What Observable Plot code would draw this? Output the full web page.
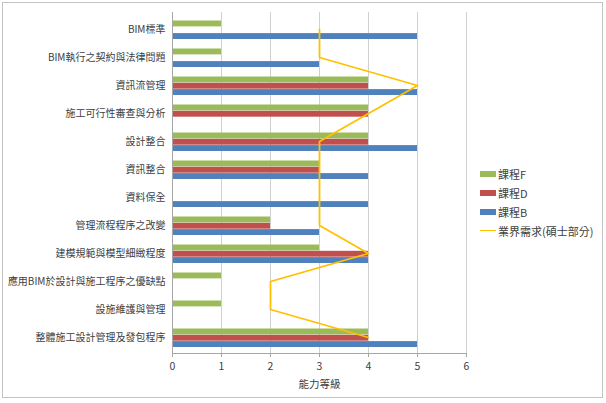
<!DOCTYPE html>
<html><head><meta charset="utf-8">
<script src="https://cdn.jsdelivr.net/npm/d3@7"></script>
<script src="https://cdn.jsdelivr.net/npm/@observablehq/plot@0.6"></script>
<style>
body{margin:0;background:#fff;}
#wrap{position:relative;width:606px;height:403px;overflow:hidden;}
#frame{position:absolute;left:2px;top:2px;width:601px;height:396px;border:1px solid #c4c4c4;pointer-events:none;box-sizing:border-box;}
#legend{position:absolute;left:480px;top:164px;font:11px "Noto Sans CJK TC",sans-serif;color:#404040;}
#legend .it{display:flex;align-items:center;height:19px;}
#legend .sw{width:16px;height:6px;margin-right:2px;}
#legend .ln{width:16px;height:0;border-top:1.5px solid #FFC000;margin-right:2px;}
</style></head>
<body>
<div id="wrap"><div id="chart"></div><div id="legend"></div><div id="frame"></div></div>
<script>
const categories = ["BIM標準","BIM執行之契約與法律問題","資訊流管理","施工可行性審查與分析","設計整合","資訊整合","資料保全","管理流程程序之改變","建模規範與模型細緻程度","應用BIM於設計與施工程序之優缺點","設施維護與管理","整體施工設計管理及發包程序"];
const courseF = [1,1,4,4,4,3,0,2,3,1,1,4];
const courseD = [0,0,4,4,4,3,0,2,4,0,0,4];
const courseB = [5,3,5,0,5,4,4,3,4,0,0,5];
const demand  = [3,3,5,4,3,3,3,3,4,2,2,4];
const xTicks = [0,1,2,3,4,5,6];
const xLabel = "能力等級";
const seriesNames = ["課程F","課程D","課程B","業界需求(碩士部分)"];
const colors = ["#9BBB59","#C0504D","#4F81BD","#FFC000"];

const rows = (vals) => categories.map((c,i)=>({cat:c, v:vals[i]}));
const bw = (403-12-50)/12;
const slot = [[5.5,11.8],[11.8,18.1],[18.1,24.4]];
const bar = (vals, k) => Plot.barX(rows(vals), {x:"v", y:"cat", fill:colors[k], insetTop:slot[k][0], insetBottom:bw-slot[k][1]});

const chart = Plot.plot({
  width:606, height:403,
  marginLeft:172, marginRight:140, marginTop:12, marginBottom:50,
  style:{fontFamily:'"Noto Sans CJK TC", sans-serif', fontSize:"10px", color:"#404040", background:"transparent"},
  x:{domain:[0,6], ticks:xTicks},
  y:{domain:categories, padding:0},
  marks:[
    Plot.gridX(xTicks, {stroke:"#d0d0d0", strokeOpacity:1}),
    bar(courseF,0), bar(courseD,1), bar(courseB,2),
    Plot.line(rows(demand), {x:"v", y:"cat", stroke:colors[3], strokeWidth:1.8}),
    Plot.ruleX([0], {stroke:"#a6a6a6"}),
    Plot.frame({anchor:"bottom", stroke:"#a6a6a6"}),
    Plot.axisX(xTicks, {tickSize:4, tickPadding:5, stroke:"#a6a6a6", color:"#404040", label:null, fontSize:"10.5px"}),
    Plot.text([xLabel], {frameAnchor:"bottom", lineAnchor:"middle", dy:31, fill:"#404040", fontSize:"10.5px"}),
    Plot.axisY({tickSize:0, tickPadding:7, label:null, fontSize:"10px"})
  ]
});
document.getElementById("chart").append(chart);

const lg = document.getElementById("legend");
seriesNames.forEach((n,i)=>{
  const d = document.createElement("div"); d.className="it";
  const s = document.createElement("span"); s.className = i<3 ? "sw" : "ln";
  if(i<3) s.style.background = colors[i];
  const t = document.createElement("span"); t.textContent = n;
  d.append(s,t); lg.append(d);
});
</script>
</body></html>
